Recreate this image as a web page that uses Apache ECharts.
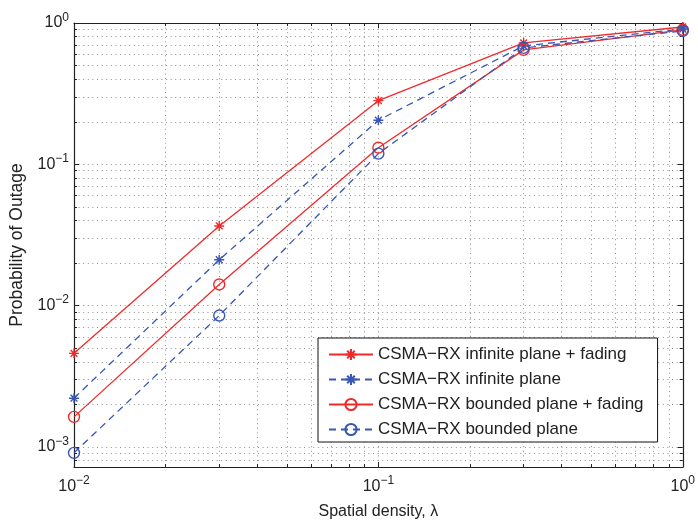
<!DOCTYPE html>
<html>
<head>
<meta charset="utf-8">
<script src="https://cdn.jsdelivr.net/npm/echarts@6/dist/echarts.min.js"></script>
<style>
  html, body { margin: 0; padding: 0; background: #fff; }
  #chart { width: 698px; height: 525px; }
</style>
</head>
<body>
<div id="chart"></div>
<script>
// Spatial density values (x) and outage probabilities for each model
const densities = [0.01, 0.03, 0.1, 0.3, 1];
const infiniteFading = [0.00459, 0.0366, 0.282, 0.723, 0.937];
const infinitePlane = [0.00221, 0.0211, 0.205, 0.689, 0.907];
const boundedFading = [0.00163, 0.0141, 0.131, 0.645, 0.893];
const boundedPlane = [0.000907, 0.0085, 0.119, 0.667, 0.878];

const seriesNames = [
  'CSMA\u2212RX infinite plane + fading',
  'CSMA\u2212RX infinite plane',
  'CSMA\u2212RX bounded plane + fading',
  'CSMA\u2212RX bounded plane'
];

const RED = '#f02a2a';
const BLUE = '#3856b2';
const FONT = '"Liberation Sans", Arial, Helvetica, sans-serif';
const STAR = 'path://M5 0L5 10M0 5L10 5M1.6 1.6L8.4 8.4M8.4 1.6L1.6 8.4';

function pairs(ys) { return densities.map((x, i) => [x, ys[i]]); }

// Decade ticks are written as 10 with a superscript exponent
function powerLabel(v) {
  const lg = Math.log10(v);
  const e = Math.round(lg);
  if (Math.abs(lg - e) > 1e-6) return '';
  return '{b|10}{e|' + (e < 0 ? '\u2212' : '') + Math.abs(e) + '}';
}

const labelRich = {
  b: { fontSize: 16, fontFamily: FONT, color: '#222' },
  e: { fontSize: 12, fontFamily: FONT, color: '#222', padding: [0, 0, 11, 0] }
};

const gridLine = { show: true, lineStyle: { color: '#8f8f8f', type: [1, 3.6], width: 1 } };

function makeSeries(name, ys, color, dashed, symbol) {
  const isStar = symbol === 'star';
  return {
    name: name,
    type: 'line',
    data: pairs(ys),
    xAxisIndex: 0,
    yAxisIndex: 0,
    symbol: isStar ? STAR : 'circle',
    symbolSize: isStar ? 10 : 11,
    showAllSymbol: true,
    lineStyle: { color: color, width: 1.3, type: dashed ? [7, 5] : 'solid' },
    itemStyle: { color: 'rgba(0,0,0,0)', borderColor: color, borderWidth: 1.4 },
    emphasis: { disabled: true },
    animation: false,
    z: 3
  };
}

function frameAxis(position, min, max) {
  return {
    type: 'log',
    logBase: 10,
    min: min,
    max: max,
    position: position,
    axisLine: { show: true, onZero: false, lineStyle: { color: '#222', width: 1.2 } },
    axisTick: { show: true, inside: true, length: 5, lineStyle: { color: '#222' } },
    minorTick: { show: true, splitNumber: 9, length: 3, lineStyle: { color: '#222' } },
    axisLabel: { show: false },
    splitLine: { show: false }
  };
}

const chart = echarts.init(document.getElementById('chart'));
chart.setOption({
  animation: false,
  backgroundColor: '#fff',
  grid: { left: 74, top: 23, right: 11, bottom: 56, containLabel: false },
  legend: {
    orient: 'vertical',
    left: 318,
    top: 338,
    padding: [8, 14, 4, 10],
    itemWidth: 44,
    itemHeight: 14,
    itemGap: 8,
    borderColor: '#111',
    borderWidth: 1,
    backgroundColor: '#fff',
    textStyle: { fontFamily: FONT, fontSize: 17, color: '#222' },
    data: seriesNames
  },
  xAxis: [{
    type: 'log',
    logBase: 10,
    min: 0.01,
    max: 1,
    name: 'Spatial density, \u03bb',
    nameLocation: 'middle',
    nameGap: 37,
    nameTextStyle: { fontFamily: FONT, fontSize: 16, color: '#222' },
    axisLine: { show: true, onZero: false, lineStyle: { color: '#222', width: 1.2 } },
    axisTick: { show: true, inside: true, length: 5, lineStyle: { color: '#222' } },
    minorTick: { show: true, splitNumber: 9, length: 3, lineStyle: { color: '#222' } },
    axisLabel: { formatter: powerLabel, rich: labelRich, margin: 8 },
    splitLine: gridLine,
    minorSplitLine: gridLine
  }, frameAxis('top', 0.01, 1)],
  yAxis: [{
    type: 'log',
    logBase: 10,
    min: 0.00072,
    max: 1,
    name: 'Probability of Outage',
    nameLocation: 'middle',
    nameGap: 45,
    nameTextStyle: { fontFamily: FONT, fontSize: 17.5, color: '#222' },
    axisLine: { show: true, onZero: false, lineStyle: { color: '#222', width: 1.2 } },
    axisTick: { show: true, inside: true, length: 5, lineStyle: { color: '#222' } },
    minorTick: { show: true, splitNumber: 9, length: 3, lineStyle: { color: '#222' } },
    axisLabel: { formatter: powerLabel, rich: labelRich, margin: 5 },
    splitLine: gridLine,
    minorSplitLine: gridLine
  }, frameAxis('right', 0.00072, 1)],
  series: [
    makeSeries(seriesNames[0], infiniteFading, RED, false, 'star'),
    makeSeries(seriesNames[1], infinitePlane, BLUE, true, 'star'),
    makeSeries(seriesNames[2], boundedFading, RED, false, 'circle'),
    makeSeries(seriesNames[3], boundedPlane, BLUE, true, 'circle')
  ]
});
</script>
</body>
</html>
